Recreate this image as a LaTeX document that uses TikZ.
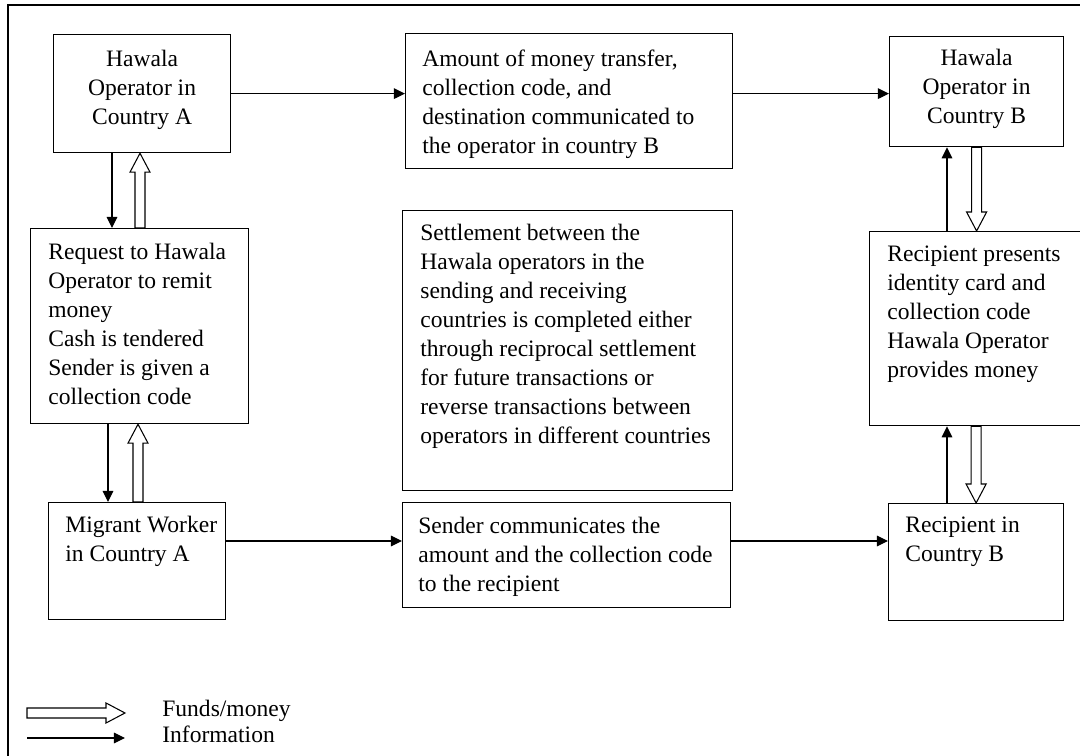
\documentclass[tikz,border=0pt]{standalone}
\usepackage{fontspec}
\setmainfont{Liberation Serif}
\usetikzlibrary{arrows.meta,calc}
\newcommand\pxu{0.02cm}
\begin{document}
\begin{tikzpicture}[x=0.02cm,y=-0.02cm,
  font=\fontsize{13.4}{16.5}\selectfont,
  box/.style={draw, line width=0.7pt, inner sep=0pt, anchor=north west},
  txt/.style={inner sep=0pt, align=left, anchor=north west},
  info/.style={draw, line width=0.6pt, -{Triangle[length=6.3pt,width=6pt]}},
  funds/.style={draw, line width=0.6pt, fill=white, to path={
    let \p1=(\tikztostart), \p2=(\tikztotarget), \p3=($(\p2)!10.8pt!(\p1)$) in
    ($(\p1)!2.85pt!90:(\p2)$) -- ($(\p3)!2.85pt!90:(\p2)$) -- ($(\p3)!5.7pt!90:(\p2)$)
    -- (\p2) -- ($(\p3)!5.7pt!-90:(\p2)$) -- ($(\p3)!2.85pt!-90:(\p2)$)
    -- ($(\p1)!2.85pt!-90:(\p2)$) -- cycle}}]
\clip (0,0) rectangle (1080,756);
% outer frame
\draw[line width=1.3pt] (8,5) rectangle (1100,800);

% boxes
\node[box, minimum width=177*\pxu, minimum height=118*\pxu] (ha) at (53,34) {};
\node[box, minimum width=327*\pxu, minimum height=135*\pxu] (mid) at (405,33) {};
\node[box, minimum width=174*\pxu, minimum height=110*\pxu] (hb) at (889,36) {};
\node[box, minimum width=218*\pxu, minimum height=195*\pxu] (req) at (30,228) {};
\node[box, minimum width=330*\pxu, minimum height=280*\pxu] (settle) at (402,210) {};
\node[box, minimum width=230*\pxu, minimum height=194*\pxu] (rp) at (869,231) {};
\node[box, minimum width=177*\pxu, minimum height=117*\pxu] (mw) at (48,502) {};
\node[box, minimum width=328*\pxu, minimum height=105*\pxu] (send) at (402,502) {};
\node[box, minimum width=175*\pxu, minimum height=117*\pxu] (rb) at (888,503) {};

% texts
\node[txt, align=center, anchor=north] at ([shift={(0,16)}]ha.north) {Hawala\\Operator in\\Country A};
\node[txt] at ([shift={(17,17)}]mid.north west) {Amount of money transfer,\\collection code, and\\destination communicated to\\the operator in country B};
\node[txt, align=center, anchor=north] at ([shift={(0,13)}]hb.north) {Hawala\\Operator in\\Country B};
\node[txt] at ([shift={(18,15)}]req.north west) {Request to Hawala\\Operator to remit\\money\\Cash is tendered\\Sender is given a\\collection code};
\node[txt] at ([shift={(18,14)}]settle.north west) {Settlement between the\\Hawala operators in the\\sending and receiving\\countries is completed either\\through reciprocal settlement\\for future transactions or\\reverse transactions between\\operators in different countries};
\node[txt] at ([shift={(18,15)}]rp.north west) {Recipient presents\\identity card and\\collection code\\Hawala Operator\\provides money};
\node[txt] at ([shift={(17,14)}]mw.north west) {Migrant Worker\\in Country A};
\node[txt] at ([shift={(16,15)}]send.north west) {Sender communicates the\\amount and the collection code\\to the recipient};
\node[txt] at ([shift={(17,14)}]rb.north west) {Recipient in\\Country B};

% connectors
\coordinate (lA) at (112,0);
\coordinate (fA) at (140,0);
\coordinate (lM) at (108,0);
\coordinate (fM) at (138,0);
\coordinate (lB) at (947,0);
\coordinate (rowB) at (0,541);
\draw[info] (ha.east) -- (mid.west |- ha.east);
\draw[info] (mid.east |- ha.east) -- (hb.west |- ha.east);
\draw[info] (ha.south -| lA) -- (req.north -| lA);
\draw[funds] (req.north -| fA) to (ha.south -| fA);
\draw[info] (req.south -| lM) -- (mw.north -| lM);
\draw[funds] (mw.north -| fM) to (req.south -| fM);
\draw[info] (mw.east |- rowB) -- (send.west |- rowB);
\draw[info] (send.east |- rowB) -- (rb.west |- rowB);
\draw[info] (rb.north -| lB) -- (rp.south -| lB);
\draw[funds] (rp.south -| rb.north) to (rb.north);
\draw[info] (rp.north -| lB) -- (hb.south -| lB);
\draw[funds] (hb.south) to (rp.north -| hb.south);

% legend
\coordinate (f0) at (27,713);
\coordinate (f1) at (125,713);
\coordinate (i0) at (27,738);
\coordinate (i1) at (125,738);
\draw[funds] (f0) to (f1);
\draw[info] (i0) -- (i1);
\node[txt, anchor=base west] at (162,717) {Funds/money};
\node[txt, anchor=base west] at (162,743) {Information};
\end{tikzpicture}
\end{document}
